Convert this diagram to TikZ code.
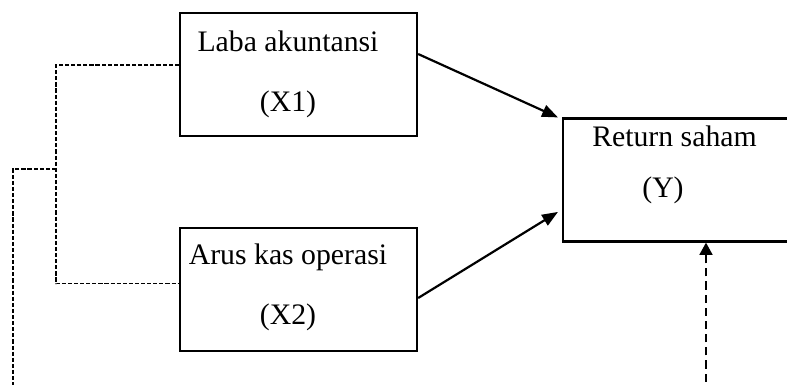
\documentclass[tikz,border=0pt]{standalone}
\usepackage{fontspec}
\setmainfont{Liberation Serif}
\usetikzlibrary{arrows.meta, positioning, calc}

\begin{document}
\begin{tikzpicture}[
      x=0.41pt, y=-0.41pt,
      var/.style={draw, line width=0.9pt, minimum width=97.2pt, minimum height=50.4pt, inner sep=0pt},
      lbl/.style={font=\fontsize{12.2}{14}\selectfont, anchor=base, inner sep=0pt},
      arr/.style={-{Triangle[length=6.5pt, width=5pt]}, line width=0.9pt},
      link/.style={line width=0.5pt, dash pattern=on 1.7pt off 0.8pt},
      ctrl/.style={-{Triangle[length=5pt, width=5.2pt]}, line width=0.95pt, dash pattern=on 3.4pt off 2pt},
    ]
      \path[use as bounding box, clip] (0,0) rectangle (787,385);

      \node[var] (lx1) at (298.5,74.5) {};
      \node[var] (lx2) at (298.5,289.5) {};
      \node[var] (ret) at (681.5,180) {};

      \node[lbl] (tx1) at (288,52) {Laba akuntansi};
      \node[lbl] (ix1) at (288,112) {(X1)};
      \node[lbl] (tx2) at (288,265) {Arus kas operasi};
      \node[lbl] (ix2) at (288,325) {(X2)};
      \node[lbl] (ty) at (674.5,147) {Return saham};
      \node[lbl] (iy) at (663,198) {(Y)};

      \draw[arr] ([yshift=8.4pt]lx1.east) -- ([xshift=-1.6pt]ret.north west);
      \draw[arr] ([yshift=-3.5pt]lx2.east) -- ([xshift=-1.6pt, yshift=-13.1pt]ret.west);

      \coordinate (split) at (56,169);
      \coordinate (foot) at (13,395);
      \coordinate (foot2) at (706,395);
      \draw[link] ([yshift=3.9pt]lx1.west) -| (split) |- ([yshift=2.3pt]lx2.west);
      \draw[link] (split) -| (foot);
      \draw[ctrl] (foot2) -- (foot2 |- ret.south);
    \end{tikzpicture}
\end{document}
